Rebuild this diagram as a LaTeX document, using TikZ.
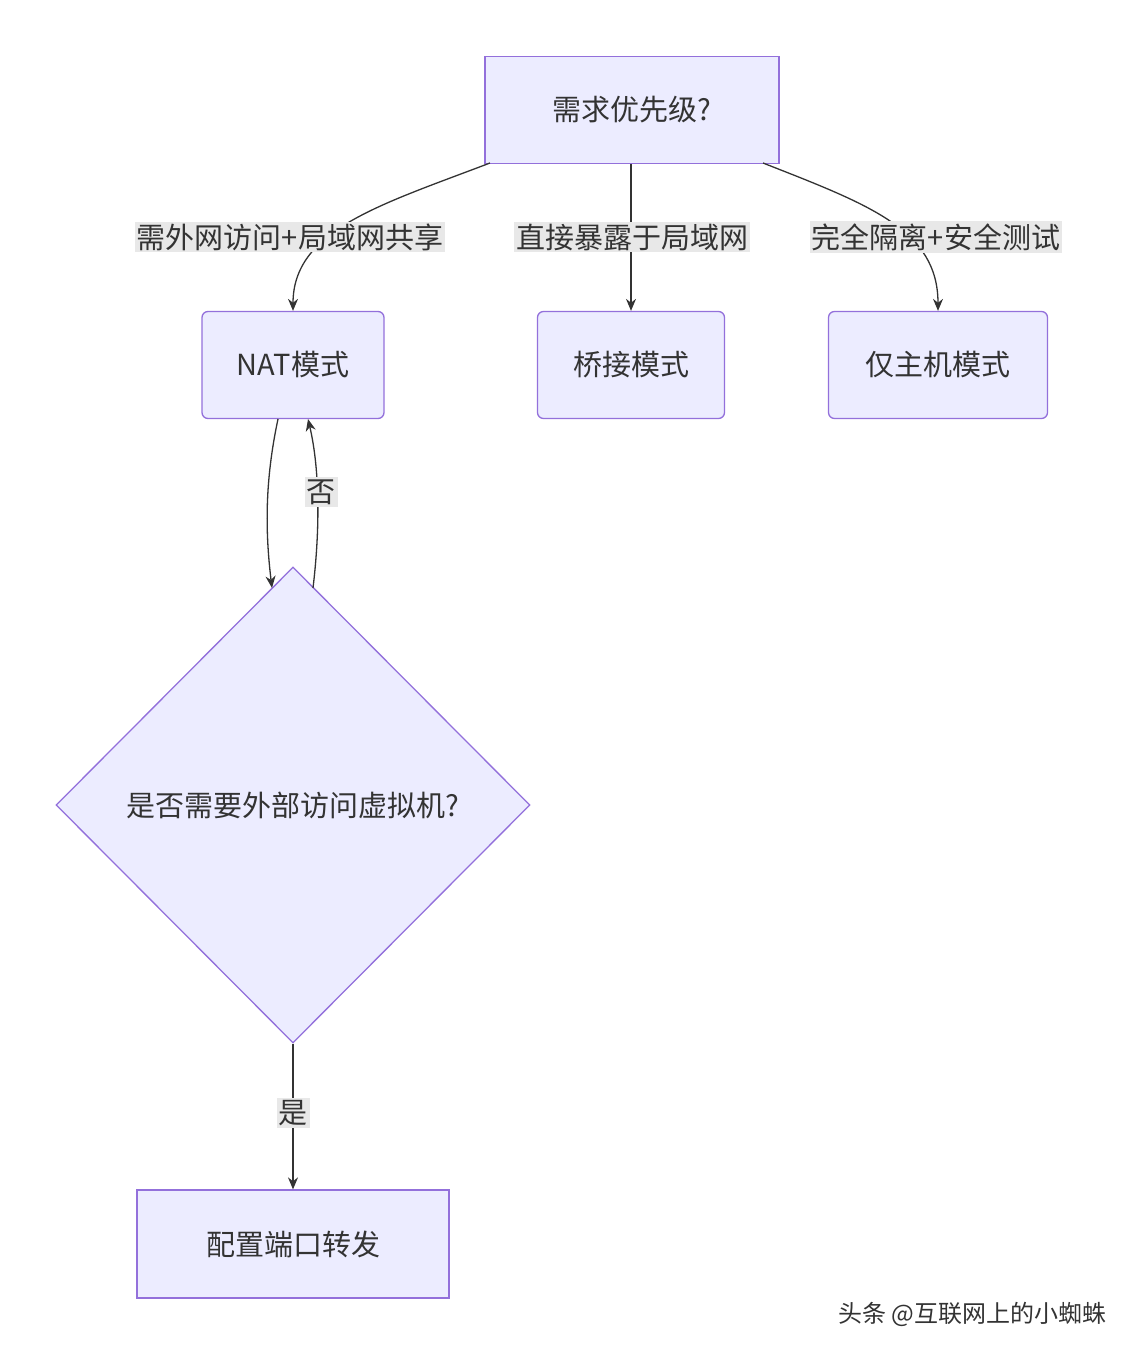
\documentclass[tikz,border=0pt]{standalone}
\usepackage{fontspec}
\setmainfont{Noto Sans CJK SC}
\usetikzlibrary{shapes.geometric,arrows.meta}
\definecolor{nf}{HTML}{ECECFF}
\definecolor{ns}{HTML}{9370DB}
\definecolor{ln}{HTML}{333333}
\definecolor{lb}{HTML}{E8E8E8}
\begin{document}
\begin{tikzpicture}[x=1pt,y=-1pt,
  box/.style={draw=ns,fill=nf,line width=1.3pt,font=\fontsize{29}{34}\selectfont,text=ln,inner sep=0pt},
  lab/.style={fill=lb,font=\fontsize{29}{34}\selectfont,text=ln,inner sep=2pt},
  ar/.style={draw=ln,line width=1.3pt,-{Stealth[length=12pt,width=10pt]}}]
\useasboundingbox (0,0) rectangle (1134,1354);
\node[box,minimum width=294pt,minimum height=107pt] (top) at (632,110) {需求优先级?};
\node[box,rounded corners=6pt,minimum width=182pt,minimum height=107pt] (nat) at (293,365) {NAT模式};
\node[box,rounded corners=6pt,minimum width=187pt,minimum height=107pt] (br) at (631,365) {桥接模式};
\node[box,rounded corners=6pt,minimum width=219pt,minimum height=107pt] (ho) at (938,365) {仅主机模式};
\node[box,diamond,minimum width=474pt,minimum height=476pt,aspect=1] (dq) at (293,805) {是否需要外部访问虚拟机?};
\node[box,minimum width=312pt,minimum height=108pt] (pf) at (293,1244) {配置端口转发};
\coordinate (t1) at (490,163);
\coordinate (t3) at (763,163);
\draw[ar] (t1) .. controls (380,205) and (293,230) .. (nat.north);
\node[lab] (l1) at (290,237) {需外网访问+局域网共享};
\draw[ar] (br.north |- top.south) -- (br.north);
\node[lab] (l2) at (632,237) {直接暴露于局域网};
\draw[ar] (t3) .. controls (870,205) and (938,230) .. (ho.north);
\node[lab] (l3) at (936,237) {完全隔离+安全测试};
\coordinate (n1) at (278,419);
\coordinate (d1) at (272,588);
\coordinate (d2) at (313,588);
\coordinate (n2) at (308,419);
\draw[ar] (n1) .. controls (265,480) and (265,530) .. (d1);
\draw[ar] (d2) .. controls (320,530) and (320,470) .. (n2);
\node[lab] (l4) at (321,492) {否};
\draw[ar] (dq.south) -- (pf.north);
\node[lab] (l5) at (293,1113) {是};
\node[font=\fontsize{24}{28}\selectfont,text=ln,anchor=east] (wm) at (1110,1314) {头条 @互联网上的小蜘蛛};
\end{tikzpicture}
\end{document}
